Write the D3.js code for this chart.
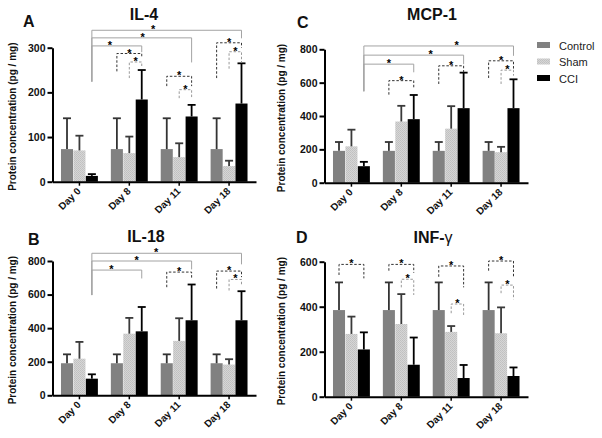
<!DOCTYPE html>
<html>
<head>
<meta charset="utf-8">
<script src="https://cdn.jsdelivr.net/npm/d3@7"></script>
<style>
  html, body { margin: 0; padding: 0; background: #fff; }
  svg { display: block; font-family: "Liberation Sans", Arial, Helvetica, sans-serif; }
</style>
</head>
<body>
<svg id="chart" width="602" height="438"></svg>
<script>
// ---------- data ----------
const days = ["Day 0", "Day 8", "Day 11", "Day 18"];
const groups = ["Control", "Sham", "CCI"];

// IL-4 (panel A)
const il4Control = [73, 73, 73, 73];
const il4ControlErr = [142, 142, 142, 142];
const il4Sham = [70, 64, 55, 35];
const il4ShamErr = [103, 101, 86, 47];
const il4CCI = [13, 184, 146, 175];
const il4CCIErr = [17, 250, 172, 265];
const il4Ticks = [0, 100, 200, 300];

// IL-18 (panel B)
const il18Control = [191, 191, 191, 191];
const il18ControlErr = [244, 244, 244, 244];
const il18Sham = [218, 367, 324, 183];
const il18ShamErr = [318, 461, 459, 215];
const il18CCI = [99, 381, 447, 447];
const il18CCIErr = [125, 526, 660, 620];
const il18Ticks = [0, 200, 400, 600, 800];

// MCP-1 (panel C)
const mcp1Control = [191, 191, 191, 191];
const mcp1ControlErr = [244, 244, 244, 244];
const mcp1Sham = [218, 367, 324, 183];
const mcp1ShamErr = [318, 461, 459, 215];
const mcp1CCI = [99, 381, 447, 447];
const mcp1CCIErr = [125, 526, 660, 620];
const mcp1Ticks = [0, 200, 400, 600, 800];

// INF-gamma (panel D)
const infControl = [385, 385, 385, 385];
const infControlErr = [508, 508, 508, 508];
const infSham = [279, 323, 288, 282];
const infShamErr = [356, 456, 314, 397];
const infCCI = [210, 142, 83, 92];
const infCCIErr = [286, 263, 141, 130];
const infTicks = [0, 200, 400, 600];

// significance brackets: [dayA, groupA, dayB, groupB, level, leftLegEnd, rightLegEnd, kind, starPos]
const il4Brackets = [
  [0, 2, 3, 2, 339, 224, 321, "s", 0.41],
  [0, 2, 2, 2, 322, 224, 267, "s", 0.51],
  [0, 2, 1, 2, 304, 224, 290, "s", 0.36],
  [1, 0, 1, 2, 287, 247, 278, "d", 0.5],
  [1, 1, 1, 2, 268, 232, 259, "g", 0.5],
  [2, 0, 2, 2, 236, 214, 214, "d", 0.5],
  [2, 1, 2, 2, 206, 187, 187, "g", 0.5],
  [3, 0, 3, 2, 311, 232, 300, "d", 0.5],
  [3, 1, 3, 2, 291, 253, 267, "g", 0.5]
];
const il18Brackets = [
  [0, 2, 3, 2, 846, 597, 780, "s", 0.43],
  [0, 2, 2, 2, 800, 597, 750, "s", 0.45],
  [0, 2, 1, 2, 746, 597, 696, "s", 0.39],
  [2, 0, 2, 2, 734, 644, 696, "d", 0.5],
  [3, 0, 3, 2, 740, 636, 704, "d", 0.5],
  [3, 1, 3, 2, 690, 624, 656, "g", 0.5]
];
const mcp1Brackets = [
  [0, 2, 3, 2, 820, 548, 761, "s", 0.62],
  [0, 2, 2, 2, 765, 548, 711, "s", 0.67],
  [0, 2, 1, 2, 711, 548, 662, "s", 0.5],
  [1, 0, 1, 2, 612, 528, 572, "d", 0.5],
  [2, 0, 2, 2, 701, 592, 662, "d", 0.5],
  [3, 0, 3, 2, 731, 628, 681, "d", 0.5],
  [3, 1, 3, 2, 675, 592, 642, "g", 0.5]
];
const infBrackets = [
  [0, 0, 0, 2, 588, 541, 526, "d", 0.5],
  [1, 0, 1, 2, 588, 560, 551, "d", 0.5],
  [1, 1, 1, 2, 522, 486, 452, "g", 0.5],
  [2, 0, 2, 2, 581, 533, 486, "d", 0.5],
  [2, 1, 2, 2, 412, 371, 356, "g", 0.5],
  [3, 0, 3, 2, 603, 560, 533, "d", 0.5],
  [3, 1, 3, 2, 496, 460, 433, "g", 0.5]
];

// ---------- drawing ----------
const svg = d3.select("#chart");
const defs = svg.append("defs");
const pat = defs.append("pattern").attr("id", "shamPat")
  .attr("width", 2).attr("height", 2).attr("patternUnits", "userSpaceOnUse");
pat.append("rect").attr("width", 2).attr("height", 2).attr("fill", "#d6d6d6");
pat.append("rect").attr("width", 1).attr("height", 1).attr("fill", "#c0c0c0");
pat.append("rect").attr("x", 1).attr("y", 1).attr("width", 1).attr("height", 1).attr("fill", "#c4c4c4");

const fills = { Control: "#818181", Sham: "url(#shamPat)", CCI: "#000" };
const errColor = { Control: "#333", Sham: "#3a3a3a", CCI: "#000" };
const bracketStyle = {
  s: { stroke: "#a3a3a3", dash: null },
  d: { stroke: "#333", dash: "2.5,1.8" },
  g: { stroke: "#999", dash: "2.5,1.8" }
};

function panel(opt) {
  const g = svg.append("g");
  const x = d3.scaleBand().domain(days).range(opt.xRange).paddingInner(0.26).paddingOuter(0.17);
  const x1 = d3.scaleBand().domain(groups).range([0, x.bandwidth()]).paddingInner(0.03);
  const y = d3.scaleLinear().domain([0, opt.max]).range([opt.y0, opt.yTop]);
  const cx = (di, gi) => x(days[di]) + x1(groups[gi]) + x1.bandwidth() / 2;

  // bars
  groups.forEach((grp, gi) => {
    const vals = opt.means[gi], errs = opt.errs[gi];
    const gg = g.append("g");
    gg.selectAll("rect").data(days).join("rect")
      .attr("x", d => x(d) + x1(grp))
      .attr("width", x1.bandwidth())
      .attr("y", (d, i) => y(vals[i]))
      .attr("height", (d, i) => y(0) - y(vals[i]))
      .attr("fill", fills[grp]);
    gg.selectAll("line.e").data(days).join("line").attr("class", "e")
      .attr("x1", (d, i) => cx(i, gi)).attr("x2", (d, i) => cx(i, gi))
      .attr("y1", (d, i) => y(vals[i])).attr("y2", (d, i) => y(errs[i]))
      .attr("stroke", errColor[grp]).attr("stroke-width", 1.8);
    gg.selectAll("line.c").data(days).join("line").attr("class", "c")
      .attr("x1", (d, i) => cx(i, gi) - 4).attr("x2", (d, i) => cx(i, gi) + 4)
      .attr("y1", (d, i) => y(errs[i])).attr("y2", (d, i) => y(errs[i]))
      .attr("stroke", errColor[grp]).attr("stroke-width", 1.8);
  });

  // brackets
  opt.brackets.forEach(b => {
    const [da, ga, db, gb, lvl, le, re, kind, sp] = b;
    const xa = cx(da, ga), xb = cx(db, gb);
    const st = bracketStyle[kind];
    g.append("path")
      .attr("d", `M${xa},${y(le)}V${y(lvl)}H${xb}V${y(re)}`)
      .attr("fill", "none").attr("stroke", st.stroke).attr("stroke-width", 1)
      .attr("stroke-dasharray", st.dash);
    g.append("text").attr("x", xa + (xb - xa) * sp).attr("y", y(lvl) + 3)
      .attr("text-anchor", "middle").attr("font-size", 11).attr("font-weight", "bold")
      .attr("fill", "#000").text("*");
  });

  // y axis
  const ya = g.append("g").attr("transform", `translate(${opt.xRange[0]},0)`)
    .call(d3.axisLeft(y).tickValues(opt.ticks).tickSize(5).tickSizeOuter(0).tickPadding(2).tickFormat(d3.format("d")));
  ya.select(".domain").attr("stroke-width", 2);
  ya.selectAll(".tick line").attr("stroke-width", 2);
  ya.selectAll(".tick text").attr("font-size", 10.5).attr("font-weight", "bold")
    .attr("font-family", "Liberation Sans, Arial, sans-serif").attr("fill", "#111");

  // x axis
  const xa = g.append("g").attr("transform", `translate(0,${opt.y0})`)
    .call(d3.axisBottom(x).tickSize(4).tickSizeOuter(0).tickFormat(""));
  xa.select(".domain").attr("stroke-width", 2);
  xa.selectAll(".tick line").attr("stroke-width", 1.5);
  g.append("g").selectAll("text").data(days).join("text")
    .attr("transform", d => `translate(${x(d) + x.bandwidth() / 2 + 2},${opt.y0 + 10}) rotate(-45)`)
    .attr("text-anchor", "end").attr("font-size", 10).attr("font-weight", "bold")
    .attr("fill", "#111").text(d => d);

  // axis title
  g.append("text")
    .attr("transform", `translate(${opt.yLabelX},${(opt.y0 + opt.yTop) / 2 + 2}) rotate(-90)`)
    .attr("text-anchor", "middle").attr("font-size", 10).attr("font-weight", "bold")
    .attr("fill", "#111").text("Protein concentration (pg / mg)");

  // title
  const t = g.append("text").attr("x", opt.titleX).attr("y", opt.titleY)
    .attr("text-anchor", "middle").attr("font-size", 16).attr("font-weight", "bold").attr("fill", "#111");
  t.append("tspan").text(opt.title);
  if (opt.titleSuffix) t.append("tspan").attr("font-weight", "normal").text(opt.titleSuffix);

  g.append("text").attr("x", opt.letterX).attr("y", opt.letterY)
    .attr("font-size", 16).attr("font-weight", "bold").attr("fill", "#111").text(opt.letter);
}

panel({
  letter: "A", letterX: 23, letterY: 27, title: "IL-4", titleX: 144, titleY: 20,
  xRange: [52.5, 256], y0: 181.7, yTop: 47.7, max: 300, ticks: il4Ticks, yLabelX: 16,
  means: [il4Control, il4Sham, il4CCI], errs: [il4ControlErr, il4ShamErr, il4CCIErr],
  brackets: il4Brackets
});
panel({
  letter: "B", letterX: 28, letterY: 245, title: "IL-18", titleX: 146, titleY: 242,
  xRange: [52.5, 256], y0: 395.3, yTop: 261, max: 800, ticks: il18Ticks, yLabelX: 16,
  means: [il18Control, il18Sham, il18CCI], errs: [il18ControlErr, il18ShamErr, il18CCIErr],
  brackets: il18Brackets
});
panel({
  letter: "C", letterX: 297, letterY: 28, title: "MCP-1", titleX: 432, titleY: 20,
  xRange: [324.5, 528], y0: 182.7, yTop: 49.3, max: 800, ticks: mcp1Ticks, yLabelX: 285,
  means: [mcp1Control, mcp1Sham, mcp1CCI], errs: [mcp1ControlErr, mcp1ShamErr, mcp1CCIErr],
  brackets: mcp1Brackets
});
panel({
  letter: "D", letterX: 296, letterY: 243, title: "INF-", titleSuffix: "γ", titleX: 433, titleY: 243,
  xRange: [324.5, 528], y0: 396.7, yTop: 261.7, max: 600, ticks: infTicks, yLabelX: 285,
  means: [infControl, infSham, infCCI], errs: [infControlErr, infShamErr, infCCIErr],
  brackets: infBrackets
});

// legend
const lg = svg.append("g");
lg.selectAll("rect").data(groups).join("rect")
  .attr("x", 537).attr("y", (d, i) => 42 + i * 16.5).attr("width", 13).attr("height", 6)
  .attr("fill", d => fills[d]);
lg.selectAll("text").data(groups).join("text")
  .attr("x", 559).attr("y", (d, i) => 49.5 + i * 16.5)
  .attr("font-size", 11).attr("fill", "#222").text(d => d);
</script>
</body>
</html>
